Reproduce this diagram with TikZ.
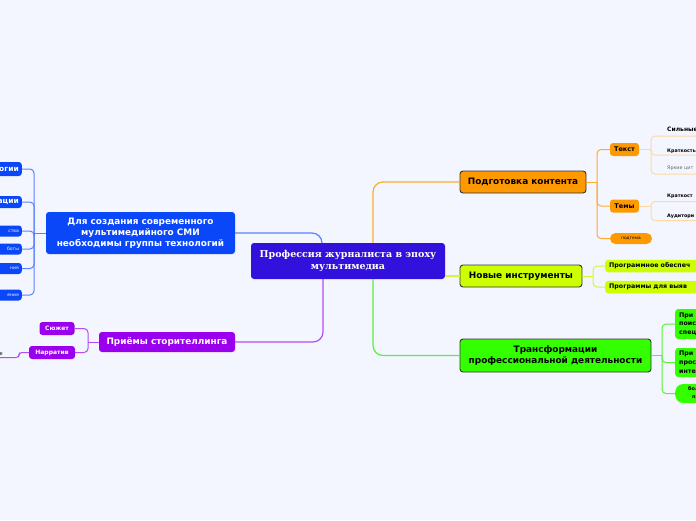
\documentclass[tikz,border=0pt]{standalone}
\usepackage{fontspec}
\setmainfont{DejaVu Sans}
\newfontfamily\titlefont{DejaVu Serif}
\usetikzlibrary{positioning,calc}
\definecolor{canvas}{HTML}{F3F6FE}
\definecolor{rootc}{HTML}{3311DD}
\definecolor{bluec}{HTML}{0A47F8}
\definecolor{bluel}{HTML}{5A82FF}
\definecolor{purpc}{HTML}{9B00EE}
\definecolor{purpl}{HTML}{B54CF2}
\definecolor{orc}{HTML}{FF9900}
\definecolor{orl}{HTML}{FFAA33}
\definecolor{orpale}{HTML}{FFD8A6}
\definecolor{limec}{HTML}{CCFF00}
\definecolor{limel}{HTML}{D4F53C}
\definecolor{greenc}{HTML}{33FF00}
\definecolor{greenl}{HTML}{5CF03A}
\definecolor{edgec}{HTML}{333333}
\definecolor{greyt}{HTML}{666666}
\tikzset{
  topic/.style={rectangle, rounded corners=3pt, align=center, inner sep=3pt,
    font=\fontsize{8.9}{10.8}\selectfont\bfseries},
  root/.style={topic, fill=rootc, text=white, font=\titlefont\fontsize{9.5}{11.5}\selectfont\bfseries},
  main/.style={topic, draw=edgec, line width=0.9pt},
  sub/.style={rectangle, rounded corners=3pt, inner sep=3pt, font=\fontsize{6.3}{8}\selectfont\bfseries},
  edgeL/.style={sub, anchor=east, align=right, text width=40pt, text=white, fill=bluec},
  edgeR/.style={sub, anchor=west, align=left, text width=100pt},
  leaf/.style={anchor=south west, inner xsep=2pt, text depth=0pt, align=left, text width=40pt},
  bline/.style={bluel, line width=1pt, rounded corners=4pt},
  pline/.style={purpl, line width=1pt, rounded corners=4pt},
  oline/.style={orl, line width=1pt, rounded corners=4pt},
  opale/.style={orpale, line width=1pt, rounded corners=4pt},
  lline/.style={limel, line width=1pt, rounded corners=4pt},
  gline/.style={greenl, line width=1pt, rounded corners=4pt},
  trunk/.style={line width=1.2pt, rounded corners=10pt}
}
\begin{document}
\begin{tikzpicture}[x=1pt,y=-1pt]
\useasboundingbox (0,0) rectangle (696,520);
\fill[canvas] (0,0) rectangle (696,520);
\clip (0,0) rectangle (696,520);

\node[root, minimum width=194pt, minimum height=36pt] (root) at (348,261) {Профессия журналиста в эпоху\\мультимедиа};
\node[topic, fill=bluec, text=white, minimum width=189pt, minimum height=42pt] (tech) at (140.5,233) {Для создания современного\\мультимедийного СМИ\\необходимы группы технологий};
\node[topic, fill=purpc, text=white, minimum width=136pt, minimum height=20pt] (story) at (167,342) {Приёмы сторителлинга};
\node[main, fill=orc, minimum width=126pt, minimum height=22pt] (prep) at (523,182) {Подготовка контента};
\node[main, fill=limec, minimum width=122pt, minimum height=22pt] (tools) at (521,276) {Новые инструменты};
\node[main, fill=greenc, minimum width=191pt, minimum height=33pt] (trans) at (555.5,355.5) {Трансформации\\профессиональной деятельности};

\draw[bluel, trunk] (tech.east) -| ([xshift=-26pt]root.north);
\draw[purpl, trunk] ([xshift=-25pt]root.south) |- (story.east);
\draw[orl, trunk] ([xshift=25pt]root.north) |- (prep.west);
\draw[limel, line width=1.2pt] ([yshift=-15pt]root.east) -- (tools.west);
\draw[greenl, trunk] ([xshift=25pt]root.south) |- (trans.west);

% technologies
\node[edgeL, minimum height=14pt, font=\fontsize{7.5}{9}\selectfont\bfseries] (t1) at (22,169) {огии};
\node[edgeL, minimum height=12pt, font=\fontsize{7.5}{9}\selectfont\bfseries] (t2) at (22,202) {ации};
\node[edgeL, minimum height=11pt, font=\fontsize{4.5}{5}\selectfont] (t3) at (22,231) {ства};
\node[edgeL, minimum height=11pt, font=\fontsize{4.5}{5}\selectfont] (t4) at (22,249) {боты};
\node[edgeL, minimum height=11pt, font=\fontsize{4.5}{5}\selectfont] (t5) at (22,268.5) {ния};
\node[edgeL, minimum height=11pt, font=\fontsize{4.5}{5}\selectfont] (t6) at (22,295) {ения};
\coordinate (tj) at (34,233);
\draw[bline] (tech.west) -- (tj);
\foreach \t in {t1,t2,t3,t4,t5,t6}
  \draw[bline] (tj) |- (\t.east);

% storytelling
\node[sub, fill=purpc, text=white, minimum width=35pt, minimum height=13pt, font=\fontsize{6}{7}\selectfont\bfseries] (plot) at (57,328.5) {Сюжет};
\node[sub, fill=purpc, text=white, minimum width=46pt, minimum height=13pt, font=\fontsize{6}{7}\selectfont\bfseries] (narr) at (52,352.5) {Нарратив};
\coordinate (sj) at (88,342);
\draw[pline] (story.west) -- (sj);
\foreach \t in {plot,narr}
  \draw[pline] (sj) |- (\t.east);
\node[leaf, anchor=south east, align=right, inner ysep=2pt, font=\fontsize{5}{6}\selectfont] (narr1) at (5,357.5) {е};
\coordinate (nj) at (19,352.5);
\draw[pline, rounded corners=3pt] (narr.west) -- (nj) |- (narr1.south east) -- (narr1.south west);

% content
\node[sub, fill=orc, minimum width=29pt, minimum height=13pt, font=\fontsize{6.5}{8}\selectfont\bfseries] (text) at (624.5,149.5) {Текст};
\node[sub, fill=orc, minimum width=29pt, minimum height=13pt, font=\fontsize{6.5}{8}\selectfont\bfseries] (themes) at (624.5,206) {Темы};
\node[sub, fill=orc, minimum width=42pt, minimum height=11pt, rounded corners=5.5pt, font=\fontsize{4.3}{5}\selectfont] (subt) at (631,238.5) {подтема};
\coordinate (cj) at (597,182);
\draw[oline] (prep.east) -- (cj);
\foreach \t in {text,themes,subt}
  \draw[oline] (cj) |- (\t.west);

\node[leaf, inner ysep=4pt, font=\fontsize{6}{7}\selectfont\bfseries] (x1) at (665,136) {Сильные};
\node[leaf, inner ysep=2.5pt, font=\fontsize{4.8}{6}\selectfont\bfseries] (x2) at (665,155) {Краткость};
\node[leaf, inner ysep=4pt, text=greyt, font=\fontsize{4.8}{6}\selectfont] (x3) at (665,174) {Яркие цит};
\coordinate (xj) at (651,149.5);
\draw[opale] (text.east) -- (xj);
\foreach \t in {x1,x2,x3}
  \draw[opale] (xj) |- (\t.south west) -- (\t.south east);

\node[leaf, inner ysep=4pt, font=\fontsize{4.8}{6}\selectfont\bfseries] (y1) at (665,201.5) {Краткост};
\node[leaf, inner ysep=3pt, font=\fontsize{4.8}{6}\selectfont\bfseries] (y2) at (665,220.5) {Аудитори};
\coordinate (yj) at (651,206);
\draw[opale] (themes.east) -- (yj);
\foreach \t in {y1,y2}
  \draw[opale] (yj) |- (\t.south west) -- (\t.south east);

% tools
\node[edgeR, fill=limec, minimum height=12.5pt, inner xsep=4pt] (soft1) at (605,266) {Программное обеспеч};
\node[edgeR, fill=limec, minimum height=12.5pt, inner xsep=4pt] (soft2) at (605,287) {Программы для выяв};
\coordinate (lj) at (593,276);
\draw[lline] (tools.east) -- (lj);
\foreach \t in {soft1,soft2}
  \draw[lline] (lj) |- (\t.west);

% transformations
\node[edgeR, fill=greenc, minimum height=30pt, inner xsep=4pt, font=\fontsize{6.3}{8.8}\selectfont\bfseries] (g1) at (675,324) {При\\поис\\спец};
\node[edgeR, fill=greenc, minimum height=29pt, inner xsep=4pt, font=\fontsize{6.3}{8.8}\selectfont\bfseries] (g2) at (675,362.5) {При\\прос\\инте};
\node[edgeR, fill=greenc, minimum height=17pt, rounded corners=8pt, inner xsep=13pt, font=\fontsize{5}{8}\selectfont\bfseries] (g3) at (675,393.5) {бол\\\hspace*{4pt}пр};
\coordinate (gj) at (662,355.5);
\draw[gline] (trans.east) -- (gj);
\foreach \t in {g1,g2,g3}
  \draw[gline] (gj) |- (\t.west);
\end{tikzpicture}
\end{document}
